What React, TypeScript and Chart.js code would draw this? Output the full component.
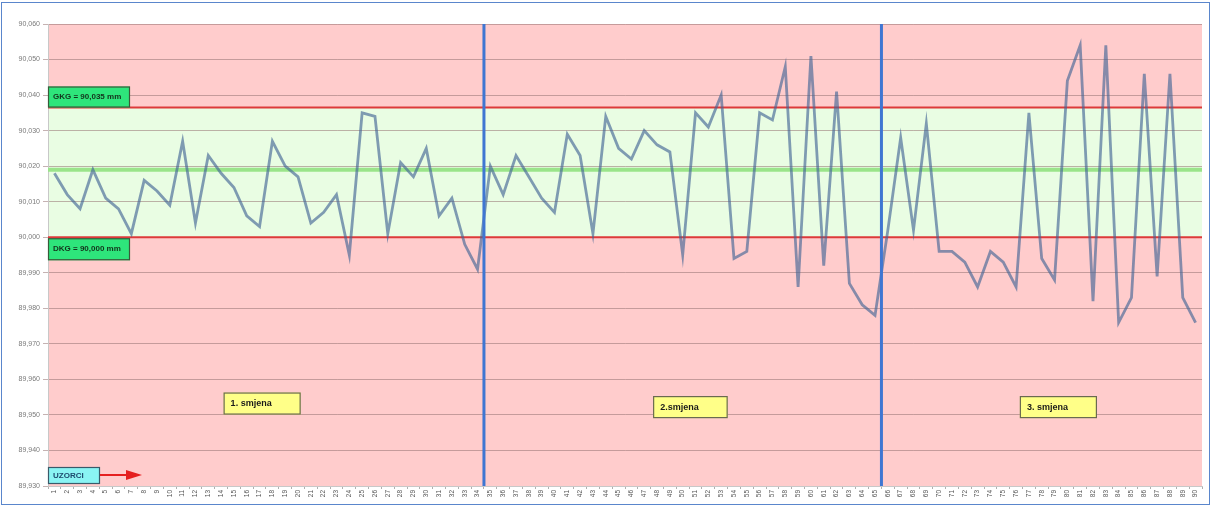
import React, { useEffect, useRef } from 'react';
import { Chart, registerables } from 'chart.js';

Chart.register(...registerables);

const sampleLabels = [
  '1', '2', '3', '4', '5', '6', '7', '8', '9', '10',
  '11', '12', '13', '14', '15', '16', '17', '18', '19', '20',
  '21', '22', '23', '24', '25', '26', '27', '28', '29', '30',
  '31', '32', '33', '34', '35', '36', '37', '38', '39', '40',
  '41', '42', '43', '44', '45', '46', '47', '48', '49', '50',
  '51', '52', '53', '54', '55', '56', '57', '58', '59', '60',
  '61', '62', '63', '64', '65', '66', '67', '68', '69', '70',
  '71', '72', '73', '74', '75', '76', '77', '78', '79', '80',
  '81', '82', '83', '84', '85', '86', '87', '88', '89', '90',
];

const shift1Values = [
  90.018, 90.012, 90.008, 90.019, 90.011, 90.008, 90.001, 90.016, 90.013, 90.009,
  90.027, 90.004, 90.023, 90.018, 90.014, 90.006, 90.003, 90.027, 90.02, 90.017,
  90.004, 90.007, 90.012, 89.995, 90.035, 90.034, 90.001, 90.021, 90.017, 90.025,
  90.006, 90.011, 89.998, 89.991,
];
const shift2Values = [
  90.02, 90.012, 90.023, 90.017, 90.011, 90.007, 90.029, 90.023, 90.001, 90.034,
  90.025, 90.022, 90.03, 90.026, 90.024, 89.995, 90.035, 90.031, 90.04, 89.994,
  89.996, 90.035, 90.033, 90.048, 89.986, 90.051, 89.992, 90.041, 89.987, 89.981,
  89.978,
];
const shift3Values = [
  90.002, 90.028, 90.002, 90.032, 89.996, 89.996, 89.993, 89.986, 89.996, 89.993,
  89.986, 90.035, 89.994, 89.988, 90.044, 90.054, 89.982, 90.054, 89.976, 89.983,
  90.046, 89.989, 90.046, 89.983, 89.976,
];
const measurements = [...shift1Values, ...shift2Values, ...shift3Values];

const Y_MIN = 89.93;
const Y_MAX = 90.06;
const Y_STEP = 0.01;

// limit lines as drawn in the picture
const GKG_LINE = 90.0365;
const DKG_LINE = 90.0;
const CENTER_LINE = 90.019;
const gkgText = 'GKG = 90,035 mm';
const dkgText = 'DKG = 90,000 mm';
const samplesText = 'UZORCI';

// shift boundaries: after sample 34 and after sample 65 (category positions, zero-based)
const shiftBoundaries = [33.5, 64.5];
const shiftNames = ['1. smjena', '2.smjena', '3. smjena'];
const shiftNameX = [16.2, 49.6, 78.3];
const shiftNameY = [89.9532, 89.9522, 89.9522];

const FONT = "'Liberation Sans', Arial, sans-serif";

function box(ctx: CanvasRenderingContext2D, x: number, y: number, w: number, h: number, fill: string, stroke: string) {
  ctx.fillStyle = fill;
  ctx.fillRect(x, y, w, h);
  ctx.strokeStyle = stroke;
  ctx.lineWidth = 1.2;
  ctx.strokeRect(x + 0.5, y + 0.5, w - 1, h - 1);
}

const decorPlugin = {
  id: 'decor',
  beforeDraw(chart: any) {
    const { ctx, chartArea, scales } = chart;
    const { left, right, top, bottom } = chartArea;
    const y = scales.y;
    ctx.save();
    ctx.fillStyle = '#FFCCCC';
    ctx.fillRect(left, top, right - left, bottom - top);
    const yG = y.getPixelForValue(GKG_LINE);
    const yD = y.getPixelForValue(DKG_LINE);
    ctx.fillStyle = '#E9FDE3';
    ctx.fillRect(left, yG, right - left, yD - yG);
    ctx.restore();
  },
  beforeDatasetsDraw(chart: any) {
    const { ctx, chartArea, scales } = chart;
    const { left, right } = chartArea;
    const y = scales.y;
    ctx.save();
    ctx.strokeStyle = '#9AE48A';
    ctx.lineWidth = 4;
    const yc = y.getPixelForValue(CENTER_LINE);
    ctx.beginPath();
    ctx.moveTo(left, yc);
    ctx.lineTo(right, yc);
    ctx.stroke();
    ctx.strokeStyle = '#DD3A3A';
    ctx.lineWidth = 2;
    [GKG_LINE, DKG_LINE].forEach((v) => {
      const p = y.getPixelForValue(v);
      ctx.beginPath();
      ctx.moveTo(left, p);
      ctx.lineTo(right, p);
      ctx.stroke();
    });
    ctx.restore();
  },
  afterDatasetsDraw(chart: any) {
    const { ctx, chartArea, scales } = chart;
    const { left, top, bottom } = chartArea;
    const x = scales.x;
    const y = scales.y;
    ctx.save();
    ctx.strokeStyle = '#3F76D2';
    ctx.lineWidth = 3;
    shiftBoundaries.forEach((b) => {
      const px = x.getPixelForValue(b);
      ctx.beginPath();
      ctx.moveTo(px, top);
      ctx.lineTo(px, bottom);
      ctx.stroke();
    });

    ctx.textBaseline = 'middle';
    const yG = y.getPixelForValue(GKG_LINE);
    const yD = y.getPixelForValue(DKG_LINE);
    ctx.font = `bold 8px ${FONT}`;
    box(ctx, left, yG - 21, 82, 21, '#2EE57B', '#3A5A3A');
    ctx.fillStyle = '#14331C';
    ctx.textAlign = 'left';
    ctx.fillText(gkgText, left + 5, yG - 10.5);
    box(ctx, left, yD + 1, 82, 22, '#2EE57B', '#3A5A3A');
    ctx.fillStyle = '#14331C';
    ctx.fillText(dkgText, left + 5, yD + 12);

    box(ctx, left, bottom - 19, 52, 17, '#8AF4F4', '#3A5A6A');
    ctx.fillStyle = '#1D4A6E';
    ctx.fillText(samplesText, left + 5, bottom - 10.5);
    const ay = bottom - 11;
    ctx.strokeStyle = '#E52020';
    ctx.lineWidth = 2;
    ctx.beginPath();
    ctx.moveTo(left + 52, ay);
    ctx.lineTo(left + 82, ay);
    ctx.stroke();
    ctx.fillStyle = '#E52020';
    ctx.beginPath();
    ctx.moveTo(left + 94, ay);
    ctx.lineTo(left + 78, ay - 5);
    ctx.lineTo(left + 78, ay + 5);
    ctx.closePath();
    ctx.fill();

    ctx.font = `bold 9px ${FONT}`;
    ctx.textAlign = 'left';
    shiftNames.forEach((name, i) => {
      const cx = x.getPixelForValue(shiftNameX[i]);
      const cy = y.getPixelForValue(shiftNameY[i]);
      const w = ctx.measureText(name).width + 36;
      box(ctx, cx - w / 2, cy - 11, w, 22, '#FFFF88', '#6A6A50');
      ctx.fillStyle = '#1A1A1A';
      ctx.fillText(name, cx - w / 2 + 7, cy);
    });
    ctx.restore();
  },
  afterDraw(chart: any) {
    const { ctx, width, height } = chart;
    ctx.save();
    ctx.strokeStyle = '#5A86CC';
    ctx.lineWidth = 1;
    ctx.strokeRect(1.5, 2.5, width - 4, height - 4);
    ctx.restore();
  },
};

export default function App() {
  const canvasRef = useRef<HTMLCanvasElement | null>(null);

  useEffect(() => {
    if (!canvasRef.current) return;
    const chart = new Chart(canvasRef.current, {
      type: 'line',
      data: {
        labels: sampleLabels,
        datasets: [
          {
            label: 'Mjerenja',
            data: measurements,
            borderColor: 'rgba(66,100,148,0.64)',
            borderWidth: 2.8,
            pointRadius: 0,
            tension: 0,
            fill: false,
          },
        ],
      },
      options: {
        animation: false,
        responsive: true,
        maintainAspectRatio: false,
        layout: { padding: { left: 0, right: 10, top: 24, bottom: 0 } },
        plugins: {
          legend: { display: false },
          tooltip: { enabled: false },
        },
        scales: {
          x: {
            type: 'category',
            offset: true,
            grid: {
              drawOnChartArea: false,
              tickLength: 3,
              color: '#B0B0B0',
              offset: true,
            },
            border: { color: '#C8C8C8' },
            ticks: {
              autoSkip: false,
              maxRotation: 90,
              minRotation: 90,
              padding: 1,
              color: '#555',
              font: { size: 6.5, family: FONT },
            },
            afterFit(scale: any) {
              scale.height = 20;
            },
          },
          y: {
            min: Y_MIN,
            max: Y_MAX,
            ticks: {
              stepSize: Y_STEP,
              padding: 3,
              color: '#7A7A7A',
              font: { size: 7, family: FONT },
              callback: (v: any) => (Math.round(Number(v) * 1000) / 1000).toFixed(3).replace('.', ','),
            },
            grid: {
              color: 'rgba(150,115,115,0.55)',
              lineWidth: 1,
              tickLength: 5,
            },
            border: { color: '#C8C8C8' },
            afterFit(scale: any) {
              scale.width = 48;
            },
          },
        },
      },
      plugins: [decorPlugin],
    });
    return () => chart.destroy();
  }, []);

  return (
    <div style={{ position: 'fixed', left: 0, top: 0, width: 1212, height: 506, background: '#fff' }}>
      <canvas ref={canvasRef} />
    </div>
  );
}
